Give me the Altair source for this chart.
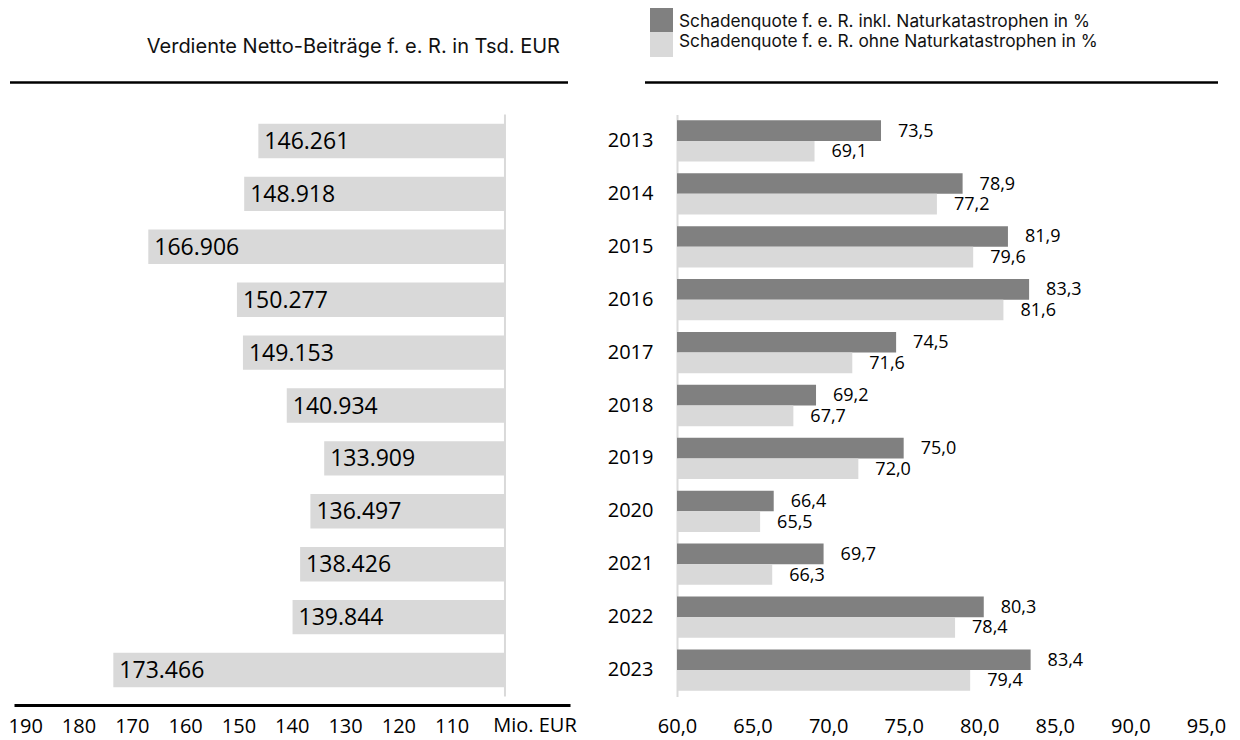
import altair as alt
import pandas as pd

# ---------------- data ----------------
years = ["2013", "2014", "2015", "2016", "2017", "2018", "2019", "2020", "2021", "2022", "2023"]
beitraege_tsd = [146261, 148918, 166906, 150277, 149153, 140934, 133909, 136497, 138426, 139844, 173466]
quote_inkl = [73.5, 78.9, 81.9, 83.3, 74.5, 69.2, 75.0, 66.4, 69.7, 80.3, 83.4]
quote_ohne = [69.1, 77.2, 79.6, 81.6, 71.6, 67.7, 72.0, 65.5, 66.3, 78.4, 79.4]
left_ticks = [190, 180, 170, 160, 150, 140, 130, 120, 110]
right_ticks = [60, 65, 70, 75, 80, 85, 90, 95]
series_names = [
    "Schadenquote f. e. R. inkl. Naturkatastrophen in %",
    "Schadenquote f. e. R. ohne Naturkatastrophen in %",
]
left_title = "Verdiente Netto-Beiträge f. e. R. in Tsd. EUR"
unit_label = "Mio. EUR"
left_base = [100]

# ---------------- styling ----------------
LABEL_FONT = "Open Sans"
HEAD_FONT = "Inter"
DARK = "#808080"
LIGHT = "#d9d9d9"
Y_RANGE = [114.5, 696.5]

left_df = pd.DataFrame({"year": years, "tsd": beitraege_tsd})
left_df["mio"] = left_df["tsd"] / 1000.0
left_df["label"] = [f"{v:,}".replace(",", ".") for v in beitraege_tsd]

right_df = pd.DataFrame({
    "year": years + years,
    "series": [series_names[0]] * len(years) + [series_names[1]] * len(years),
    "value": quote_inkl + quote_ohne,
})
right_df["label"] = [f"{v:.1f}".replace(".", ",") for v in right_df["value"]]

left_x_scale = alt.Scale(domain=[87.8, 192.1], range=[570, 14], zero=False, nice=False)
left_y_scale = alt.Scale(domain=years, range=Y_RANGE, paddingInner=0.35, paddingOuter=0.175)
right_x_scale = alt.Scale(domain=[60, 95.8], range=[677, 1218], zero=False, nice=False)
right_y_scale = alt.Scale(domain=years, range=Y_RANGE, paddingInner=0.22, paddingOuter=0.11)

# ---------------- left panel ----------------
lbars = alt.Chart(left_df).mark_bar(color=LIGHT).encode(
    x=alt.X("mio:Q", scale=left_x_scale, title=None,
            axis=alt.Axis(values=left_ticks, orient="bottom", offset=-35, domainColor="black",
                          domainWidth=3, ticks=False, tickSize=0, labelPadding=11, grid=False,
                          labelFont=LABEL_FONT, labelFontSize=20, labelColor="black",
                          labelFlush=False, labelOverlap=False, format="d")),
    x2=alt.datum(100),
    y=alt.Y("year:O", scale=left_y_scale, axis=None),
)
lrule = alt.Chart(pd.DataFrame({"v": left_base})).mark_rule(color=LIGHT, strokeWidth=2).encode(
    x=alt.X("v:Q", scale=left_x_scale, title=None),
    y=alt.value(Y_RANGE[0]),
    y2=alt.value(Y_RANGE[1]),
)
llabels = alt.Chart(left_df).mark_text(
    align="left", baseline="middle", dx=6, dy=1, font=LABEL_FONT, fontSize=23, color="black"
).encode(
    x=alt.X("mio:Q", scale=left_x_scale, title=None),
    y=alt.Y("year:O", scale=left_y_scale),
    text="label:N",
)
lunit = alt.Chart(pd.DataFrame({"v": left_base, "t": [unit_label]})).mark_text(
    align="center", baseline="middle", dx=30, font=LABEL_FONT, fontSize=20, color="black"
).encode(
    x=alt.X("v:Q", scale=left_x_scale, title=None),
    y=alt.value(726),
    text="t:N",
)
left = alt.layer(lbars, lrule, llabels, lunit)

# ---------------- right panel ----------------
color_scale = alt.Scale(domain=series_names, range=[DARK, LIGHT])
rbars = alt.Chart(right_df).mark_bar().encode(
    x=alt.X("value:Q", scale=right_x_scale, title=None,
            axis=alt.Axis(values=right_ticks, orient="bottom", offset=-35, domain=False,
                          ticks=False, tickSize=0, labelPadding=11, grid=False,
                          labelFont=LABEL_FONT, labelFontSize=20, labelColor="black",
                          labelFlush=False, labelOverlap=False,
                          labelExpr="replace(format(datum.value, '.1f'), '.', ',')")),
    x2=alt.datum(60),
    y=alt.Y("year:O", scale=right_y_scale, title=None,
            axis=alt.Axis(orient="left", offset=-677, domainColor=LIGHT, domainWidth=2,
                          ticks=False, tickSize=0, labelPadding=24, grid=False,
                          labelFont=LABEL_FONT, labelFontSize=20, labelColor="black")),
    yOffset=alt.YOffset("series:N", scale=alt.Scale(domain=series_names)),
    color=alt.Color("series:N", scale=color_scale, legend=None),
)
rlabels = alt.Chart(right_df).mark_text(
    align="left", baseline="middle", dx=17, dy=1, font=LABEL_FONT, fontSize=18, color="black"
).encode(
    x=alt.X("value:Q", scale=right_x_scale, title=None),
    y=alt.Y("year:O", scale=right_y_scale),
    yOffset=alt.YOffset("series:N", scale=alt.Scale(domain=series_names)),
    text="label:N",
)
right = alt.layer(rbars, rlabels)

# ---------------- decorations ----------------
one = pd.DataFrame({"a": [0]})
line_left = alt.Chart(one).mark_rule(color="black", strokeWidth=2.5).encode(
    x=alt.value(10), x2=alt.value(568), y=alt.value(82.5))
line_right = alt.Chart(one).mark_rule(color="black", strokeWidth=2.5).encode(
    x=alt.value(645), x2=alt.value(1218), y=alt.value(82.5))
title_txt = alt.Chart(pd.DataFrame({"t": [left_title]})).mark_text(
    align="right", baseline="alphabetic", font=HEAD_FONT, fontSize=20, color="#111111"
).encode(x=alt.value(560), y=alt.value(53), text="t:N")

leg_dark = alt.Chart(one).mark_rect(color=DARK).encode(
    x=alt.value(650), x2=alt.value(673), y=alt.value(8), y2=alt.value(32))
leg_light = alt.Chart(one).mark_rect(color=LIGHT).encode(
    x=alt.value(650), x2=alt.value(673), y=alt.value(32), y2=alt.value(57))
leg_t1 = alt.Chart(pd.DataFrame({"t": [series_names[0]]})).mark_text(
    align="left", baseline="alphabetic", font=HEAD_FONT, fontSize=17.3, color="#111111"
).encode(x=alt.value(679), y=alt.value(27), text="t:N")
leg_t2 = alt.Chart(pd.DataFrame({"t": [series_names[1]]})).mark_text(
    align="left", baseline="alphabetic", font=HEAD_FONT, fontSize=17.3, color="#111111"
).encode(x=alt.value(679), y=alt.value(47), text="t:N")

chart = alt.layer(
    left, right, line_left, line_right, title_txt, leg_dark, leg_light, leg_t1, leg_t2
).resolve_scale(
    x="independent", y="independent"
).properties(
    width=1240, height=740,
    autosize=alt.AutoSizeParams(type="none"),
    padding=0,
    background="white",
).configure_view(stroke=None)

chart.save("out.html", embed_options={"renderer": "svg", "actions": False})
